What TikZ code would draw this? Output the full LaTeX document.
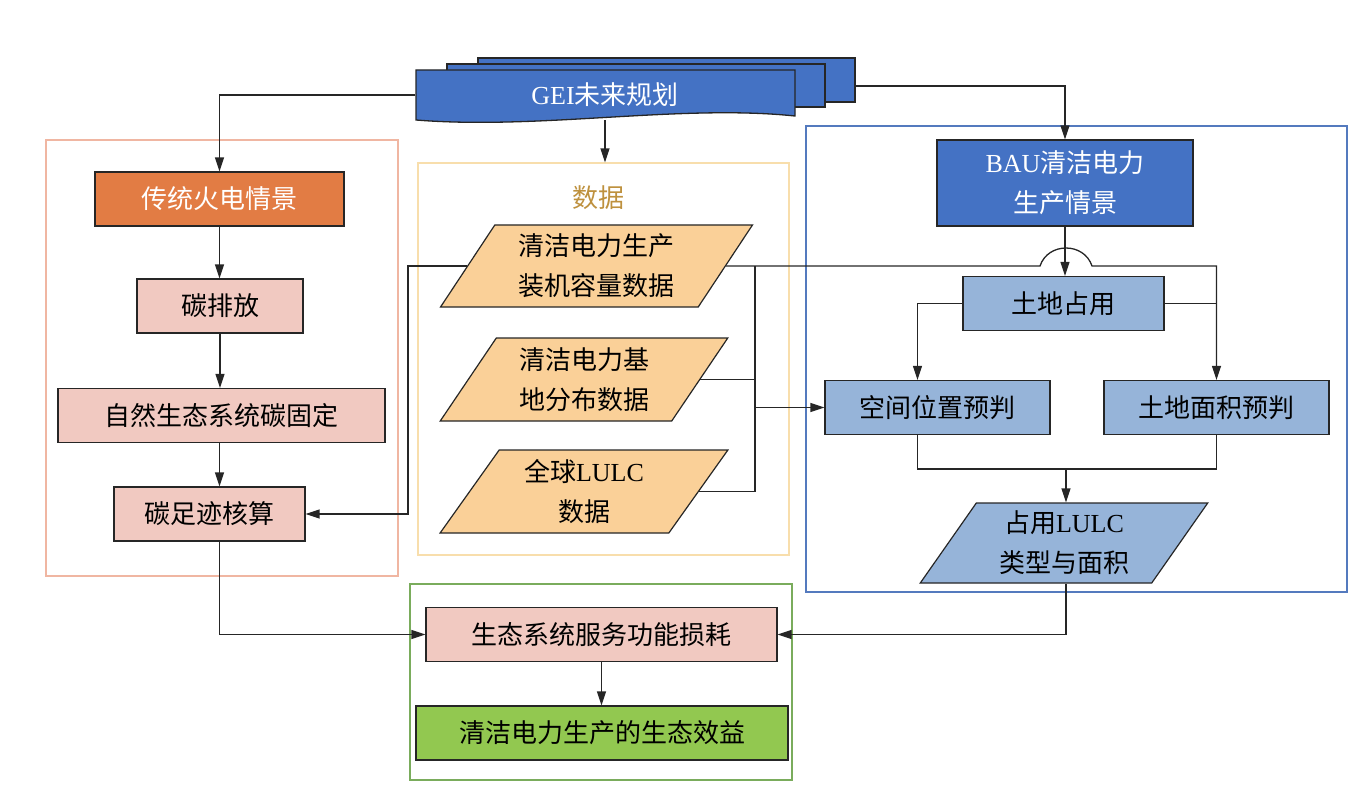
\documentclass[tikz,border=0pt]{standalone}
\usepackage{fontspec}
\setmainfont{Noto Sans CJK SC}
\newfontfamily\lat{Liberation Serif}
\usetikzlibrary{shapes.geometric}
\usetikzlibrary{arrows.meta}
\definecolor{darkblue}{RGB}{68,114,196}
\definecolor{fireorange}{RGB}{226,124,68}
\definecolor{lightpink}{RGB}{241,201,193}
\definecolor{lighttan}{RGB}{250,208,152}
\definecolor{lightblue}{RGB}{150,180,217}
\definecolor{lightgreen}{RGB}{146,200,80}
\definecolor{framepink}{RGB}{240,182,162}
\definecolor{frametan}{RGB}{248,222,172}
\definecolor{frameblue}{RGB}{84,122,190}
\definecolor{framegreen}{RGB}{122,172,92}
\definecolor{datatext}{RGB}{190,145,62}
\tikzset{
  box/.style={draw=black!85, line width=1.2pt, minimum height=54pt, inner sep=0pt},
  para/.style={trapezium, trapezium left angle=57, trapezium right angle=123,
    trapezium stretches=true, draw=black!85, line width=1.2pt, inner sep=0pt,
    align=center, minimum width=288pt, minimum height=83pt},
  frame/.style={line width=1.2pt, inner sep=0pt},
  arr/.style={-{Triangle[length=14pt,width=9pt]}, line width=1.3pt, black!85},
  line/.style={line width=1.3pt, black!85}
}
\begin{document}
\begin{tikzpicture}[x=1pt, y=-1pt, font=\fontsize{26}{40}\selectfont]
\useasboundingbox (0,0) rectangle (1372,794);
% frames
\node[frame, draw=framepink, minimum width=352pt, minimum height=436pt] (fhuo) at (222,358) {};
\node[frame, draw=frametan, minimum width=371pt, minimum height=392pt] (fdata) at (603.5,359) {};
\node[frame, draw=frameblue, minimum width=541pt, minimum height=466pt] (fbau) at (1076.5,359) {};
\node[frame, draw=framegreen, minimum width=382pt, minimum height=196pt] (fxiao) at (601,682) {};
% GEI stack
\draw[line, fill=darkblue] (478,58) rectangle (855,102);
\draw[line, fill=darkblue] (447,64) rectangle (825,107);
\draw[line, fill=darkblue] (416,70) -- (795,70) -- (795,116)
  .. controls (680,104) and (540,130) .. (416,120) -- cycle;
\node[text=white, minimum width=379pt, minimum height=50pt] (gei) at (605,95) {{\lat GEI}未来规划};
\coordinate (gback) at (855,86);
% left column
\node[box, fill=fireorange, text=white, minimum width=249pt] (huo) at (219.5,199) {传统火电情景};
\node[box, fill=lightpink, minimum width=166pt] (pai) at (220,306) {碳排放};
\node[box, fill=lightpink, minimum width=327pt] (gu) at (221.5,415.5) {自然生态系统碳固定};
\node[box, fill=lightpink, minimum width=191pt] (tan) at (209.5,514) {碳足迹核算};
% data column
\node[text=datatext] (shuju) at (598,198) {数据};
\node[para, fill=lighttan, minimum width=313pt, minimum height=82pt] (d1) at (596.5,266) {清洁电力生产\\装机容量数据};
\node[para, fill=lighttan] (d2) at (584,379.5) {清洁电力基\\地分布数据};
\node[para, fill=lighttan] (d3) at (584,491.5) {全球{\lat LULC}\\数据};
% BAU column
\node[box, fill=darkblue, text=white, align=center, minimum width=256pt, minimum height=86pt] (bau) at (1065,183) {{\lat BAU}清洁电力\\生产情景};
\node[box, fill=lightblue, minimum width=201pt] (zhan) at (1063.5,303.5) {土地占用};
\node[box, fill=lightblue, minimum width=225pt] (kong) at (937.5,407.5) {空间位置预判};
\node[box, fill=lightblue, minimum width=225pt] (tumian) at (1216.5,407.5) {土地面积预判};
\node[para, fill=lightblue, minimum height=80pt] (lulc) at (1064,543) {占用{\lat LULC}\\类型与面积};
% bottom
\node[box, fill=lightpink, minimum width=351pt] (sheng) at (601.5,634.5) {生态系统服务功能损耗};
\node[box, fill=lightgreen, minimum width=372pt] (xiao) at (602,733) {清洁电力生产的生态效益};
% connectors
\coordinate (jl) at (408,300);
\coordinate (jd) at (755,407.5);
\coordinate (jb) at (1066,469);
\draw[arr] (gei.west) -| (huo.north);
\draw[arr] (gei.south) -- (gei.south |- fdata.north);
\draw[arr] (gback) -| (bau.north);
\draw[arr] (huo.south) -- (huo.south |- pai.north);
\draw[arr] (pai.south) -- (pai.south |- gu.north);
\draw[arr] (huo.south |- gu.south) -- (huo.south |- tan.north);
\draw[arr] (d1.west) -| (jl) |- (tan.east);
\draw[line] (d2.east) -- (d2.east -| jd);
\draw[line] (d3.east) -- (d3.east -| jd) -- (d1.east -| jd);
\draw[arr] (jd) -- (kong.west);
\draw[arr] (d1.east) -- (1040,266) .. controls (1048,242) and (1084,242) .. (1092,266)
  -- (tumian.north |- d1.east) -- (tumian.north);
\draw[arr] (bau.south) -- (bau.south |- zhan.north);
\draw[arr] (zhan.west) -| ([xshift=-20pt]kong.north);
\draw[line] (zhan.east) -- (zhan.east -| tumian.north);
\draw[line] ([xshift=-20pt]kong.south) |- (jb) -| (tumian.south);
\draw[arr] (jb) -- (jb |- lulc.north);
\draw[arr] (huo.south |- tan.south) |- (sheng.west);
\draw[arr] (jb |- lulc.south) |- (sheng.east);
\draw[arr] (sheng.south) -- (sheng.south |- xiao.north);
\end{tikzpicture}
\end{document}
